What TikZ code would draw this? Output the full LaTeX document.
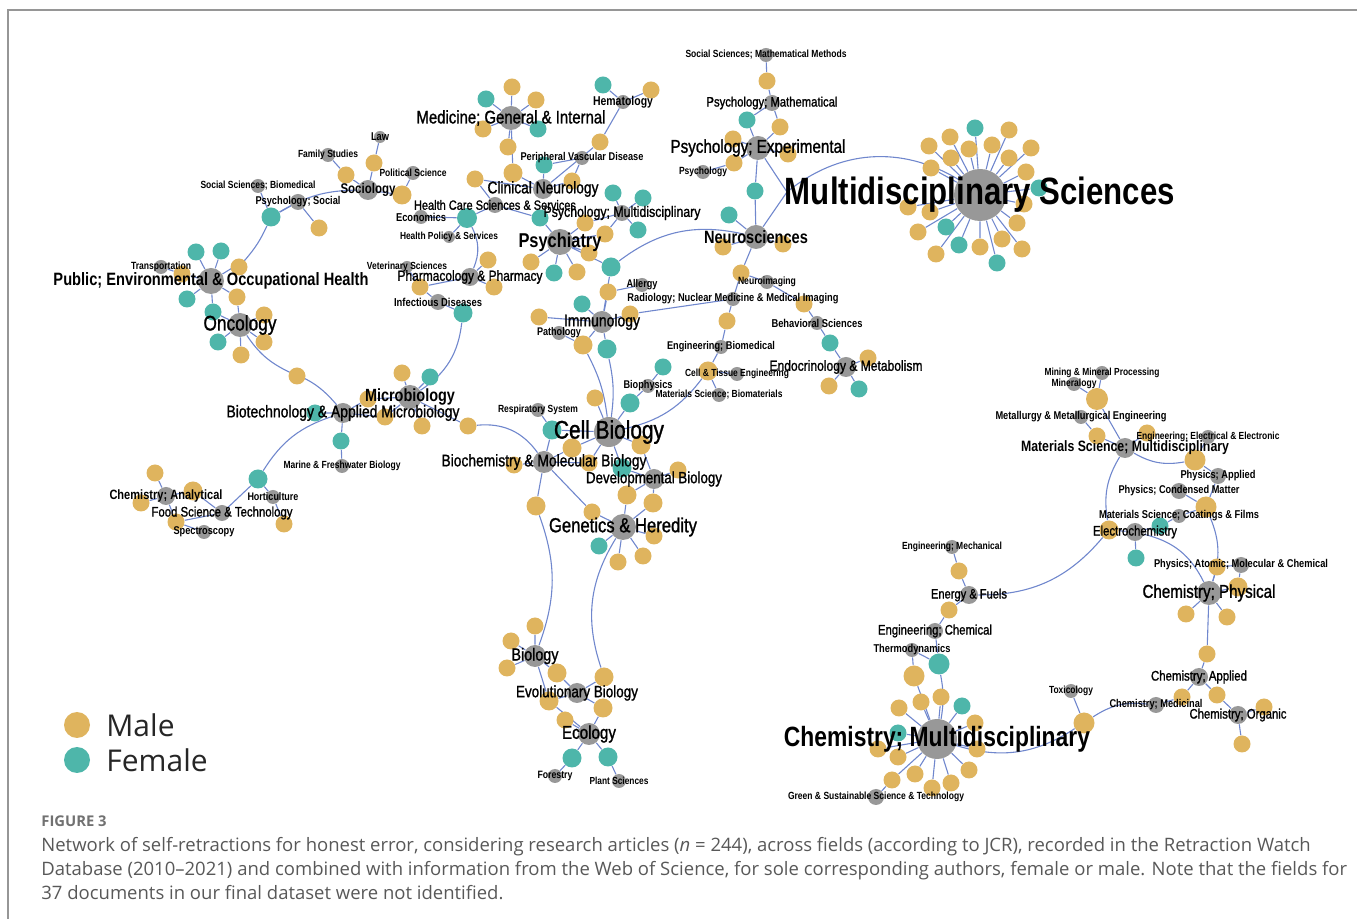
\documentclass[tikz,border=0pt]{standalone}
\usepackage{fontspec}
\usepackage{graphicx}
\usetikzlibrary{backgrounds}
\setmainfont{Open Sans}
\newfontfamily\netfont[FakeStretch=0.82]{Liberation Sans}
\newfontfamily\netmid[FakeStretch=0.82, FakeBold=1.2]{Liberation Sans}

\definecolor{malec}{RGB}{223,180,94}
\definecolor{femc}{RGB}{78,182,170}
\definecolor{fieldc}{RGB}{152,152,152}
\definecolor{linkc}{RGB}{112,135,205}
\definecolor{capc}{RGB}{88,88,88}
\definecolor{framec}{RGB}{150,150,150}

% one pixel of the reference
\newdimen\pxu \pxu=0.5pt
\newcommand\fitw[2]{\resizebox{#1\pxu}{!}{#2}}

\tikzset{
	male/.style={circle, fill=malec, inner sep=0pt, minimum size=#1},
	male/.default=8.5pt,
	fem/.style={circle, fill=femc, inner sep=0pt, minimum size=#1},
	fem/.default=8.5pt,
	fld/.style={circle, fill=fieldc, inner sep=0pt, minimum size=#1},
	fld/.default=7pt,
	tb/.style={font=\netfont\bfseries, text=black, inner sep=0pt},
	tr/.style={font=\netmid, text=black, inner sep=0pt},
	lnk/.style={draw=linkc, line width=0.55pt},
}

\begin{document}
\begin{tikzpicture}[x=0.5pt, y=0.5pt]
		\useasboundingbox (0,0) rectangle (1357,-919);
		
		% Frame
		\draw[framec, line width=0.75pt] (8,-919) -- (8,-10) -- (1357,-10);
		
		% Authors: sociology and public health
		\node[male] (m1) at (374,-163) {};
		\node[male] (m2) at (346,-175) {};
		\node[male=9.5pt] (m3) at (402,-195) {};
		\node[fem=9.5pt] (f1) at (271,-217) {};
		\node[male] (m4) at (239,-267) {};
		\node[male] (m5) at (319,-228) {};
		\node[male] (m6) at (237,-297) {};
		\node[male] (m7) at (182,-274) {};
		\node[fem] (f3) at (196,-252) {};
		\node[fem] (f4) at (221,-251) {};
		\node[fem] (f5) at (187,-299) {};
		\node[fem] (f6) at (213,-312) {};
		\node[male] (m8) at (264,-315) {};
		\node[male] (m9) at (264,-342) {};
		\node[fem] (f7) at (218,-342) {};
		\node[male] (m10) at (241,-355) {};
		\node[male] (m11) at (297,-376) {};
		
		% Authors: health care and pharmacology
		\node[fem=10pt] (f2) at (467,-218) {};
		\node[male] (m12) at (420,-287) {};
		\node[male] (m13) at (488,-260) {};
		\node[male] (m14) at (494,-287) {};
		\node[fem=9.5pt] (f8) at (463,-313) {};
		
		% Authors: medicine, neurology, psychiatry
		\node[male] (m15) at (512,-87) {};
		\node[fem] (f9) at (486,-99) {};
		\node[male] (m16) at (536,-100) {};
		\node[male] (m17) at (483,-129) {};
		\node[fem] (f10) at (538,-129) {};
		\node[male] (m18) at (508,-147) {};
		\node[male=9.5pt] (m22) at (513,-173) {};
		\node[fem] (f11) at (603,-85) {};
		\node[male] (m19) at (651,-90) {};
		\node[male] (m20) at (600,-142) {};
		\node[fem] (f12) at (544,-165) {};
		\node[male] (m21) at (475,-179) {};
		\node[male] (m23) at (572,-181) {};
		\node[fem] (f13) at (613,-193) {};
		\node[fem] (f14) at (643,-198) {};
		\node[fem] (f15) at (638,-230) {};
		\node[male] (m25) at (605,-234) {};
		\node[male] (m26) at (585,-223) {};
		\node[fem] (f16) at (540,-218) {};
		\node[male] (m27) at (531,-262) {};
		\node[fem] (f17) at (554,-273) {};
		\node[male] (m28) at (577,-272) {};
		\node[male] (m29) at (589,-253) {};
		\node[fem=9.5pt] (f18) at (611,-267) {};
		\node[male] (m30) at (608,-292) {};
		\node[male] (m31) at (630,-314) {};
		\node[fem] (f19) at (582,-304) {};
		\node[male] (m32) at (539,-317) {};
		\node[male=9.5pt] (m33) at (583,-345) {};
		\node[fem=9.5pt] (f20) at (607,-349) {};
		
		% Authors: psychology and neurosciences
		\node[male] (m34) at (767,-81) {};
		\node[fem] (f21) at (747,-120) {};
		\node[male] (m35) at (780,-127) {};
		\node[male] (m36) at (733,-139) {};
		\node[male] (m37) at (734,-163) {};
		\node[male] (m38) at (788,-154) {};
		\node[fem] (f22) at (755,-191) {};
		\node[fem] (f23) at (729,-215) {};
		\node[male] (m39) at (723,-247) {};
		\node[male] (m40) at (783,-244) {};
		\node[male] (m41) at (741,-273) {};
		\node[male] (m42) at (727,-321) {};
		\node[male] (m43) at (804,-304) {};
		\node[fem] (f24) at (830,-343) {};
		\node[male] (m44) at (868,-358) {};
		\node[male] (m45) at (829,-386) {};
		\node[fem] (f25) at (859,-389) {};
		\coordinate (psyneu) at (787,-192);
		
		% Authors: multidisciplinary sciences
		\node[fem] (sa1) at (975,-128) {};
		\node[male] (sa2) at (950,-137) {};
		\node[male] (sa3) at (1009,-130) {};
		\node[male] (sa4) at (929,-146) {};
		\node[male] (sa5) at (969,-149) {};
		\node[male] (sa6) at (992,-145) {};
		\node[male] (sa7) at (1031,-148) {};
		\node[male] (sa8) at (951,-158) {};
		\node[male] (sa9) at (1009,-158) {};
		\node[male] (sa10) at (931,-168) {};
		\node[male] (sa11) at (1026,-172) {};
		\node[fem] (sa12) at (1039,-188) {};
		\node[male] (sa13) at (1024,-204) {};
		\node[male] (sa14) at (908,-207) {};
		\node[male] (sa15) at (930,-212) {};
		\node[male] (sa16) at (1017,-223) {};
		\node[fem] (sa17) at (946,-227) {};
		\node[male] (sa18) at (918,-232) {};
		\node[fem] (sa19) at (959,-245) {};
		\node[male] (sa20) at (980,-247) {};
		\node[male] (sa21) at (1002,-239) {};
		\node[male] (sa22) at (1022,-249) {};
		\node[male] (sa23) at (936,-254) {};
		\node[fem] (sa24) at (997,-263) {};
		
		% Authors: cell biology
		\node[male=9.5pt] (m46) at (708,-371) {};
		\node[fem] (f26) at (663,-367) {};
		\node[fem=9.5pt] (f27) at (630,-403) {};
		\node[male] (m47) at (595,-398) {};
		\node[fem=9.5pt] (f28) at (552,-430) {};
		\node[male=9.5pt] (m48) at (572,-448) {};
		\node[male=9.5pt] (m49) at (641,-445) {};
		\node[male] (m50) at (514,-465) {};
		\node[male] (m51) at (589,-463) {};
		\node[fem=9.5pt] (f29) at (622,-468) {};
		\node[male] (m52) at (678,-470) {};
		\node[male=9.5pt] (m53) at (627,-495) {};
		\node[male=9.5pt] (m54) at (653,-503) {};
		\node[male=9.5pt] (m55) at (536,-506) {};
		\node[male] (m56) at (592,-512) {};
		\node[male] (m57) at (654,-536) {};
		\node[fem] (f30) at (599,-546) {};
		\node[male] (m58) at (618,-562) {};
		\node[male] (m59) at (643,-556) {};
		\node[male] (m60) at (468,-426) {};
		\node[male] (m61) at (422,-426) {};
		
		% Authors: microbiology and food science
		\node[male] (m62) at (402,-373) {};
		\node[fem] (f33) at (430,-377) {};
		\node[male] (m63) at (368,-399) {};
		\node[male] (m64) at (385,-417) {};
		\node[fem] (f31) at (315,-413) {};
		\node[fem] (f34) at (341,-441) {};
		\node[fem=9.5pt] (f32) at (258,-479) {};
		\node[male] (m65) at (284,-524) {};
		\node[male] (m66) at (155,-473) {};
		\node[male=9.5pt] (m67) at (193,-491) {};
		\node[male] (m68) at (141,-503) {};
		\node[male] (m69) at (176,-522) {};
		
		% Authors: biology and ecology
		\node[male] (m70) at (535,-626) {};
		\node[male] (m71) at (511,-641) {};
		\node[male] (m72) at (507,-668) {};
		\node[male=9.5pt] (m73) at (557,-673) {};
		\node[male=9.5pt] (m74) at (604,-677) {};
		\node[male=9.5pt] (m75) at (549,-701) {};
		\node[male=9.5pt] (m76) at (603,-708) {};
		\node[male] (m77) at (565,-720) {};
		\node[fem=9.5pt] (f35) at (572,-758) {};
		\node[fem=9.5pt] (f36) at (608,-757) {};
		
		% Authors: materials, physics, chemistry
		\node[male=11pt] (m80) at (1097,-399) {};
		\node[male] (m81) at (1097,-436) {};
		\node[male] (m82) at (1147,-433) {};
		\node[male=10.5pt] (m83) at (1195,-460) {};
		\node[male=10.5pt] (m84) at (1206,-507) {};
		\node[fem] (f37) at (1160,-526) {};
		\node[male=9.5pt] (m85) at (1109,-530) {};
		\node[fem] (f38) at (1136,-558) {};
		\node[male] (m86) at (959,-571) {};
		\node[male] (m87) at (949,-610) {};
		\node[male] (m88) at (1217,-567) {};
		\node[male=9.5pt] (m89) at (1238,-587) {};
		\node[male] (m90) at (1186,-614) {};
		\node[male] (m91) at (1227,-617) {};
		\node[male] (m92) at (1207,-654) {};
		\node[male] (m93) at (1182,-697) {};
		\node[male] (m94) at (1217,-695) {};
		\node[male] (m95) at (1264,-707) {};
		\node[male] (m96) at (1242,-744) {};
		\node[male=10.5pt] (m97) at (1084,-723) {};
		\node[fem=10.5pt] (f39) at (939,-664) {};
		\node[male=10.5pt] (m98) at (914,-676) {};
		
		% Authors: chemistry multidisciplinary
		\node[male] (sc1) at (941,-697) {};
		\node[fem] (sc2) at (962,-706) {};
		\node[male] (sc3) at (921,-702) {};
		\node[male] (sc4) at (899,-708) {};
		\node[fem] (sc5) at (898,-733) {};
		\node[male] (sc6) at (975,-723) {};
		\node[male] (sc7) at (878,-749) {};
		\node[male] (sc8) at (898,-757) {};
		\node[male] (sc9) at (977,-749) {};
		\node[male] (sc10) at (969,-770) {};
		\node[male] (sc11) at (915,-774) {};
		\node[male] (sc12) at (892,-780) {};
		\node[male] (sc13) at (951,-783) {};
		\node[male] (sc14) at (932,-788) {};
		
		% Fields: social sciences and public health
		\node[fld=6pt, label={[tb]center:\fitw{18}{Law}}] (law) at (380,-137) {};
		\node[fld, label={[tb]center:\fitw{60}{Family Studies}}] (famst) at (328,-155) {};
		\node[fld, label={[tb]center:\fitw{67}{Political Science}}] (polsci) at (413,-173) {};
		\node[fld=10pt, label={[tb]center:\fitw{55}{Sociology}}] (socio) at (368,-190) {};
		\node[fld, label={[tb]center:\fitw{115}{Social Sciences; Biomedical}}] (ssbio) at (258,-186) {};
		\node[fld=8pt, label={[tb]center:\fitw{85}{Psychology; Social}}] (psysoc) at (298,-202) {};
		\node[fld, label={[tb]center:\fitw{60}{Transportation}}] (transp) at (161,-267) {};
		\node[fld=13pt, label={[tb]center:\fitw{315}{Public; Environmental \& Occupational Health}}] (peoh) at (211,-281) {};
		\node[fld=12pt, label={[tr]center:\fitw{73}{Oncology}}] (onco) at (240,-325) {};
		\node[fld, label={[tb]center:\fitw{50}{Economics}}] (econ) at (421,-217) {};
		\node[fld=6pt, label={[tb]center:\fitw{98}{Health Policy \& Services}}] (hpol) at (449,-237) {};
		\node[fld=8pt, label={[tr]center:\fitw{162}{Health Care Sciences \& Services}}] (hcss) at (495,-205) {};
		\node[fld=6pt, label={[tb]center:\fitw{80}{Veterinary Sciences}}] (vet) at (407,-267) {};
		\node[fld=9pt, label={[tr]center:\fitw{145}{Pharmacology \& Pharmacy}}] (pharm) at (470,-277) {};
		\node[fld=8pt, label={[tb]center:\fitw{88}{Infectious Diseases}}] (infd) at (438,-302) {};
		
		% Fields: medicine, psychiatry, immunology
		\node[fld=12pt, label={[tr]center:\fitw{189}{Medicine; General \& Internal}}] (med) at (511,-118) {};
		\node[fld, label={[tb]center:\fitw{60}{Hematology}}] (hema) at (623,-102) {};
		\node[fld, label={[tb]center:\fitw{123}{Peripheral Vascular Disease}}] (pvd) at (582,-158) {};
		\node[fld=10pt, label={[tr]center:\fitw{111}{Clinical Neurology}}] (clneu) at (543,-189) {};
		\node[fld=8pt, label={[tr]center:\fitw{157}{Psychology; Multidisciplinary}}] (psymd) at (622,-213) {};
		\node[fld=13pt, label={[tb]center:\fitw{83}{Psychiatry}}] (psyc) at (560,-242) {};
		\node[fld, label={[tb]center:\fitw{31}{Allergy}}] (allergy) at (642,-285) {};
		\node[fld, label={[tb]center:\fitw{211}{Radiology; Nuclear Medicine \& Medical Imaging}}] (radio) at (733,-299) {};
		\node[fld=11pt, label={[tr]center:\fitw{76}{Immunology}}] (immu) at (602,-322) {};
		\node[fld, label={[tb]center:\fitw{44}{Pathology}}] (patho) at (559,-333) {};
		
		% Fields: psychology and neurosciences
		\node[fld, label={[tb]center:\fitw{161}{Social Sciences; Mathematical Methods}}] (ssmm) at (766,-55) {};
		\node[fld=8pt, label={[tr]center:\fitw{131}{Psychology; Mathematical}}] (psymath) at (772,-103) {};
		\node[fld=12pt, label={[tr]center:\fitw{175}{Psychology; Experimental}}] (psyexp) at (758,-148) {};
		\node[fld, label={[tb]center:\fitw{48}{Psychology}}] (psych) at (703,-172) {};
		\node[fld=12pt, label={[tb]center:\fitw{104}{Neurosciences}}] (neuro) at (756,-237) {};
		\node[fld, label={[tb]center:\fitw{58}{Neuroimaging}}] (nimg) at (767,-282) {};
		\node[fld, label={[tb]center:\fitw{91}{Behavioral Sciences}}] (behav) at (817,-323) {};
		\node[fld=10pt, label={[tr]center:\fitw{153}{Endocrinology \& Metabolism}}] (endo) at (846,-367) {};
		\node[fld=26pt, label={[tb]center:\fitw{390}{Multidisciplinary Sciences}}] (multi) at (980,-195) {};
		
		% Fields: cell biology and genetics
		\node[fld, label={[tb]center:\fitw{108}{Engineering; Biomedical}}] (engbio) at (721,-347) {};
		\node[fld, label={[tb]center:\fitw{104}{Cell \& Tissue Engineering}}] (cte) at (737,-374) {};
		\node[fld, label={[tb]center:\fitw{127}{Materials Science; Biomaterials}}] (msbio) at (719,-395) {};
		\node[fld, label={[tb]center:\fitw{49}{Biophysics}}] (bioph) at (648,-386) {};
		\node[fld, label={[tb]center:\fitw{80}{Respiratory System}}] (resp) at (538,-410) {};
		\node[fld=15pt, label={[tr]center:\fitw{110}{Cell Biology}}] (cell) at (609,-432) {};
		\node[fld=11pt, label={[tr]center:\fitw{205}{Biochemistry \& Molecular Biology}}] (bmb) at (544,-462) {};
		\node[fld=10pt, label={[tr]center:\fitw{136}{Developmental Biology}}] (devb) at (654,-479) {};
		\node[fld=13pt, label={[tr]center:\fitw{148}{Genetics \& Heredity}}] (gen) at (623,-527) {};
		
		% Fields: microbiology and food science
		\node[fld=12pt, label={[tb]center:\fitw{90}{Microbiology}}] (micro) at (410,-397) {};
		\node[fld=10pt, label={[tr]center:\fitw{233}{Biotechnology \& Applied Microbiology}}] (biot) at (343,-413) {};
		\node[fld, label={[tb]center:\fitw{117}{Marine \& Freshwater Biology}}] (marine) at (342,-466) {};
		\node[fld, label={[tb]center:\fitw{51}{Horticulture}}] (hort) at (273,-497) {};
		\node[fld=8pt, label={[tr]center:\fitw{141}{Food Science \& Technology}}] (food) at (222,-513) {};
		\node[fld=9pt, label={[tb]center:\fitw{113}{Chemistry; Analytical}}] (chana) at (166,-496) {};
		\node[fld, label={[tb]center:\fitw{61}{Spectroscopy}}] (spec) at (204,-532) {};
		
		% Fields: biology and ecology
		\node[fld=11pt, label={[tr]center:\fitw{47}{Biology}}] (biol) at (535,-656) {};
		\node[fld=10pt, label={[tr]center:\fitw{122}{Evolutionary Biology}}] (evob) at (577,-693) {};
		\node[fld=11pt, label={[tr]center:\fitw{54}{Ecology}}] (ecol) at (589,-734) {};
		\node[fld, label={[tb]center:\fitw{35}{Forestry}}] (forest) at (555,-776) {};
		\node[fld, label={[tb]center:\fitw{59}{Plant Sciences}}] (plant) at (619,-781) {};
		
		% Fields: materials, physics, chemistry
		\node[fld, label={[tb]center:\fitw{115}{Mining \& Mineral Processing}}] (mining) at (1102,-373) {};
		\node[fld, label={[tb]center:\fitw{45}{Mineralogy}}] (minera) at (1074,-384) {};
		\node[fld, label={[tb]center:\fitw{171}{Metallurgy \& Metallurgical Engineering}}] (metal) at (1081,-417) {};
		\node[fld=10pt, label={[tb]center:\fitw{208}{Materials Science; Multidisciplinary}}] (msm) at (1125,-448) {};
		\node[fld, label={[tb]center:\fitw{143}{Engineering; Electrical \& Electronic}}] (eee) at (1208,-437) {};
		\node[fld=8pt, label={[tb]center:\fitw{75}{Physics; Applied}}] (phyapp) at (1218,-476) {};
		\node[fld=8pt, label={[tb]center:\fitw{121}{Physics; Condensed Matter}}] (phycm) at (1179,-491) {};
		\node[fld, label={[tb]center:\fitw{160}{Materials Science; Coatings \& Films}}] (mscf) at (1179,-516) {};
		\node[fld=9pt, label={[tr]center:\fitw{84}{Electrochemistry}}] (echem) at (1135,-532) {};
		\node[fld, label={[tb]center:\fitw{100}{Engineering; Mechanical}}] (engmech) at (952,-547) {};
		\node[fld=9pt, label={[tr]center:\fitw{76}{Energy \& Fuels}}] (energy) at (969,-595) {};
		\node[fld=8pt, label={[tb]center:\fitw{174}{Physics; Atomic; Molecular \& Chemical}}] (phyamc) at (1241,-565) {};
		\node[fld=12pt, label={[tr]center:\fitw{133}{Chemistry; Physical}}] (chphys) at (1209,-593) {};
		\node[fld=8pt, label={[tr]center:\fitw{114}{Engineering; Chemical}}] (engchem) at (935,-631) {};
		\node[fld, label={[tb]center:\fitw{77}{Thermodynamics}}] (thermo) at (912,-650) {};
		\node[fld=20pt, label={[tb]center:\fitw{306}{Chemistry; Multidisciplinary}}] (chmulti) at (937,-739) {};
		\node[fld=8pt, label={[tb]center:\fitw{176}{Green \& Sustainable Science \& Technology}}] (green) at (876,-797) {};
		\node[fld, label={[tb]center:\fitw{44}{Toxicology}}] (toxic) at (1071,-691) {};
		\node[fld=8pt, label={[tb]center:\fitw{93}{Chemistry; Medicinal}}] (chmed) at (1156,-705) {};
		\node[fld=9pt, label={[tr]center:\fitw{96}{Chemistry; Applied}}] (chapp) at (1199,-677) {};
		\node[fld=9pt, label={[tr]center:\fitw{97}{Chemistry; Organic}}] (chorg) at (1238,-715) {};
		
		\begin{scope}[on background layer]
		% Links: social sciences and public health
		\draw[lnk] (law) -- (m1) -- (socio);
		\draw[lnk] (famst) -- (m2) -- (socio);
		\draw[lnk] (polsci) -- (m3) -- (socio);
		\draw[lnk] (ssbio) -- (f1) -- (psysoc) -- (m5);
		\draw[lnk] (f1) to[bend left=15] (socio);
		\draw[lnk] (f1) to[bend left=8] (m4) -- (peoh);
		\draw[lnk] (transp) -- (m7) -- (peoh);
		\draw[lnk] (peoh) -- (f3) (peoh) -- (f4) (peoh) -- (f5) (peoh) -- (f6) -- (onco) (peoh) -- (m6) -- (onco);
		\draw[lnk] (onco) -- (m8) (onco) -- (m9) (onco) -- (f7) (onco) -- (m10);
		\draw[lnk] (onco) to[bend right=15] (m11) to[bend left=15] (biot);
		
		% Links: health care and pharmacology
		\draw[lnk] (econ) -- (f2) -- (hcss) (hpol) -- (f2);
		\draw[lnk] (f2) to[bend left=25] (pharm);
		\draw[lnk] (vet) -- (m12) -- (pharm) (m12) -- (infd);
		\draw[lnk] (pharm) -- (m13) (pharm) -- (m14);
		\draw[lnk] (infd) -- (f8);
		\draw[lnk] (f8) to[bend left=25] (micro);
		
		% Links: medicine, psychiatry, immunology
		\draw[lnk] (med) -- (m15) (med) -- (f9) (med) -- (m16) (med) -- (m17) (med) -- (f10) (med) -- (m18) (med) -- (m22) -- (clneu);
		\draw[lnk] (hema) -- (f11) (hema) -- (m19) (hema) -- (m20) -- (clneu);
		\draw[lnk] (pvd) -- (f12) -- (clneu) (pvd) -- (m23) -- (clneu);
		\draw[lnk] (hcss) -- (m21) -- (clneu);
		\draw[lnk] (psymd) -- (f13) (psymd) -- (f14) (psymd) -- (f15) (psymd) -- (m25) -- (psyc) (psymd) -- (m26) -- (psyc);
		\draw[lnk] (hcss) -- (f16) -- (psyc);
		\draw[lnk] (psyc) -- (m27) (psyc) -- (f17) (psyc) -- (m28) (psyc) -- (m29) (psyc) -- (f18) -- (immu);
		\draw[lnk] (f18) to[bend left=25] (neuro);
		\draw[lnk] (allergy) -- (m30) -- (immu) (radio) -- (m31) -- (immu);
		\draw[lnk] (immu) -- (f19) (immu) -- (m32) (patho) -- (m33) -- (immu) (immu) -- (f20);
		\draw[lnk] (m33) to[bend left=10] (cell) (f20) to[bend left=10] (cell);
		
		% Links: psychology and neurosciences
		\draw[lnk] (ssmm) -- (m34) -- (psymath);
		\draw[lnk] (psymath) -- (f21) -- (psyexp) (psymath) -- (m35) -- (psyexp);
		\draw[lnk] (psyexp) -- (m36) (psyexp) -- (m37) -- (psych) (psyexp) -- (m38) (psyexp) -- (f22) -- (neuro);
		\draw[lnk] (neuro) -- (f23) (neuro) -- (m39) (neuro) -- (m40);
		\draw[lnk] (psyexp) -- (psyneu) -- (neuro);
		\draw[lnk] (psyneu) to[bend left=35] (multi);
		\draw[lnk] (neuro) -- (m41) -- (nimg) (m41) -- (radio) -- (m42) -- (engbio);
		\draw[lnk] (nimg) -- (m43) -- (behav) -- (f24) -- (endo);
		\draw[lnk] (endo) -- (m44) (endo) -- (m45) (endo) -- (f25);
		\draw[lnk] (multi) -- (sa1) (multi) -- (sa2) (multi) -- (sa3) (multi) -- (sa4) (multi) -- (sa5) (multi) -- (sa6);
		\draw[lnk] (multi) -- (sa7) (multi) -- (sa8) (multi) -- (sa9) (multi) -- (sa10) (multi) -- (sa11) (multi) -- (sa12);
		\draw[lnk] (multi) -- (sa13) (multi) -- (sa14) (multi) -- (sa15) (multi) -- (sa16) (multi) -- (sa17) (multi) -- (sa18);
		\draw[lnk] (multi) -- (sa19) (multi) -- (sa20) (multi) -- (sa21) (multi) -- (sa22) (multi) -- (sa23) (multi) -- (sa24);
		
		% Links: cell biology and genetics
		\draw[lnk] (engbio) -- (m46) -- (cte) (m46) -- (msbio);
		\draw[lnk] (cell) to[bend right=20] (m46);
		\draw[lnk] (bioph) -- (f26) (bioph) -- (f27) -- (cell);
		\draw[lnk] (resp) -- (f28) -- (cell) (f28) -- (bmb);
		\draw[lnk] (cell) -- (m47) (cell) -- (m48) -- (bmb) (cell) -- (m49) -- (devb) (cell) -- (m51) -- (bmb) (cell) -- (f29) -- (devb);
		\draw[lnk] (bmb) -- (m50) (devb) -- (m52) (devb) -- (m53) -- (gen) (devb) -- (m54) -- (gen);
		\draw[lnk] (bmb) -- (m55) (bmb) -- (m56) -- (gen);
		\draw[lnk] (m55) to[bend left=20] (biol);
		\draw[lnk] (gen) -- (m57) (gen) -- (f30) (gen) -- (m58) (gen) -- (m59);
		\draw[lnk] (gen) to[bend right=25] (m74);
		
		% Links: microbiology and food science
		\draw[lnk] (micro) -- (m60) (micro) -- (m61) (micro) -- (m62) (micro) -- (f33) (micro) -- (m63) -- (biot) (micro) -- (m64) -- (biot);
		\draw[lnk] (m60) to[bend left=30] (bmb);
		\draw[lnk] (biot) -- (f31) (biot) -- (f34) -- (marine);
		\draw[lnk] (biot) to[bend right=20] (f32);
		\draw[lnk] (hort) -- (f32) -- (food) (hort) -- (m65);
		\draw[lnk] (chana) -- (m66) (chana) -- (m67) -- (food) (chana) -- (m68) (chana) -- (m69) -- (spec) (m69) -- (food);
		
		% Links: biology and ecology
		\draw[lnk] (biol) -- (m70) (biol) -- (m71) (biol) -- (m72) (biol) -- (m73) -- (evob) (biol) -- (m75);
		\draw[lnk] (evob) -- (m74) (evob) -- (m75) -- (ecol) (evob) -- (m76) -- (ecol) (ecol) -- (m77);
		\draw[lnk] (ecol) -- (f35) -- (forest) (ecol) -- (f36) -- (plant);
		
		% Links: materials, physics, chemistry
		\draw[lnk] (mining) -- (m80) -- (minera) (m80) -- (msm);
		\draw[lnk] (metal) -- (m81) -- (msm) (msm) -- (m82);
		\draw[lnk] (eee) -- (m83) -- (phyapp);
		\draw[lnk] (m83) to[bend left=20] (msm);
		\draw[lnk] (phyapp) -- (m84) -- (phycm) (m84) -- (mscf);
		\draw[lnk] (m84) to[bend left=20] (chphys);
		\draw[lnk] (mscf) -- (f37) -- (echem) (echem) -- (m85) (echem) -- (f38);
		\draw[lnk] (m85) to[bend left=20] (msm) (m85) to[bend left=25] (energy);
		\draw[lnk] (echem) to[bend left=25] (chphys);
		\draw[lnk] (engmech) -- (m86) -- (energy) -- (m87) -- (engchem) -- (f39) -- (thermo) -- (m98) -- (chmulti);
		\draw[lnk] (f39) to[bend left=10] (chmulti);
		\draw[lnk] (phyamc) -- (m88) -- (chphys) (phyamc) -- (m89) -- (chphys) (chphys) -- (m90) (chphys) -- (m91) (chphys) -- (m92) -- (chapp);
		\draw[lnk] (chapp) -- (m93) -- (chmed) (chapp) -- (m94) -- (chorg) (chorg) -- (m95) (chorg) -- (m96);
		\draw[lnk] (toxic) -- (m97);
		\draw[lnk] (m97) to[bend left=20] (chmed) (m97) to[bend left=25] (chmulti);
		\draw[lnk] (chmulti) -- (sc1) (chmulti) -- (sc2) (chmulti) -- (sc3) (chmulti) -- (sc4) (chmulti) -- (sc5) (chmulti) -- (sc6) (chmulti) -- (sc7);
		\draw[lnk] (chmulti) -- (sc8) (chmulti) -- (sc9) (chmulti) -- (sc10) (chmulti) -- (sc11) (chmulti) -- (sc12) (chmulti) -- (sc13) (chmulti) -- (sc14);
		\draw[lnk] (green) -- (sc12);
		\end{scope}
		
		% Legend
		\node[male=13pt] (keym) at (77,-725) {};
		\node[fem=13pt] (keyf) at (77,-760) {};
		\node[anchor=west, inner sep=0pt, font=\fontsize{15}{18}\selectfont, text=black!85] (keymt) at (106,-725) {Male};
		\node[anchor=west, inner sep=0pt, font=\fontsize{15}{18}\selectfont, text=black!85] (keyft) at (106,-760) {Female};
		
		% Caption
		\node[anchor=base west, inner sep=0pt, font=\fontsize{7.4}{9}\selectfont\bfseries, text=capc!85] (fig) at (41,-827) {FIGURE 3};
		\node[anchor=base west, inner sep=0pt, font=\fontsize{9.25}{11}\selectfont, text=capc] (cap1) at (41,-852) {Network of self-retractions for honest error, considering research articles (\textit{n}~=~244), across fields (according to JCR), recorded in the Retraction Watch};
		\node[anchor=base west, inner sep=0pt, font=\fontsize{9.25}{11}\selectfont, text=capc] (cap2) at (41,-876) {Database (2010--2021) and combined with information from the Web of Science, for sole corresponding authors, female or male. Note that the fields for};
		\node[anchor=base west, inner sep=0pt, font=\fontsize{9.25}{11}\selectfont, text=capc] (cap3) at (41,-900) {37 documents in our final dataset were not identified.};
		
		\end{tikzpicture}
\end{document}
